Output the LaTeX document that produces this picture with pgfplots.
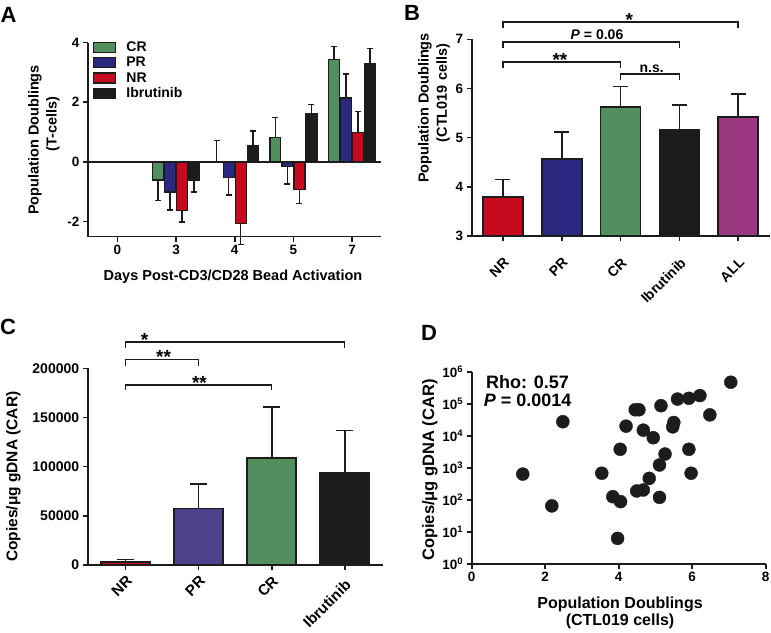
\documentclass[border=0pt]{standalone}
\usepackage{fontspec}
\setmainfont{Liberation Sans}
\usepackage{pgfplots}
\pgfplotsset{compat=1.18}

\definecolor{cgreen}{RGB}{82,142,94}
\definecolor{cblue}{RGB}{42,40,128}
\definecolor{cred}{RGB}{200,10,30}
\definecolor{cblack}{RGB}{28,28,28}
\definecolor{cpurple}{RGB}{155,55,128}
\definecolor{cslate}{RGB}{76,66,140}

\newcommand{\ft}[1]{\fontsize{#1}{#1}\selectfont\bfseries}

\tikzset{br/.style={line width=1.5pt, cblack}}
\pgfplotsset{
  gp/.style={
    scale only axis,
    anchor=south west,
    axis x line*=bottom,
    axis y line*=left,
    axis line style={line width=1.6pt, cblack},
    tick align=outside,
    major tick length=5pt,
    tick style={line width=1.6pt, cblack},
    tick label style={font=\ft{13.5}},
    /pgf/number format/assume math mode=true,
    /pgf/number format/1000 sep={},
    scaled ticks=false,
    clip=false,
  },
}

\begin{document}
\begin{tikzpicture}
\useasboundingbox (0pt,0pt) rectangle (771pt,-632pt);

% ---------------- Panel A ----------------
\begin{axis}[gp, at={(88pt,-236.5pt)}, width=293.5pt, height=194pt,
  xmin=-0.5, xmax=4.5, ymin=-2.5, ymax=4,
  xtick={0,1,2,3,4}, xticklabels={0,3,4,5,7},
  ytick={-2,0,2,4}, yticklabels={-2,0,2,4},
  ybar, bar width=0.185,
  error bars/y dir=both, error bars/y explicit,
  error bars/error bar style={line width=1.4pt, cblack},
  error bars/error mark options={rotate=90, mark size=3pt, line width=1.4pt, cblack},
  legend image code/.code={\draw[#1, line width=1.3pt] (0pt,-5pt) rectangle (22pt,5pt);},
  legend style={at={(0.016,1.012)}, anchor=north west, draw=none, fill=none,
    font=\ft{14}, inner sep=0pt, row sep=1.8pt,
    nodes={inner sep=1.2pt},
    /tikz/every odd column/.append style={column sep=9pt}},
  legend cell align=left,
]
\addplot[fill=cgreen, draw=cblack, line width=1.3pt, bar shift=-0.3075] coordinates {
  (1,-0.61) += (0,0) -= (0,0.68)
  (2,0.02) += (0,0.70) -= (0,0)
  (3,0.81) += (0,0.68) -= (0,0)
  (4,3.44) += (0,0.42) -= (0,0)};
\addplot[fill=cblue, draw=cblack, line width=1.3pt, bar shift=-0.1025] coordinates {
  (1,-1.01) += (0,0) -= (0,0.60)
  (2,-0.53) += (0,0) -= (0,0.58)
  (3,-0.16) += (0,0) -= (0,0.58)
  (4,2.14) += (0,0.81) -= (0,0)};
\addplot[fill=cred, draw=cblack, line width=1.3pt, bar shift=0.1025] coordinates {
  (1,-1.63) += (0,0) -= (0,0.38)
  (2,-2.07) += (0,0) -= (0,0.70)
  (3,-0.92) += (0,0) -= (0,0.47)
  (4,0.98) += (0,0.70) -= (0,0)};
\addplot[fill=cblack, draw=cblack, line width=1.3pt, bar shift=0.3075] coordinates {
  (1,-0.62) += (0,0) -= (0,0.39)
  (2,0.53) += (0,0.50) -= (0,0)
  (3,1.61) += (0,0.32) -= (0,0)
  (4,3.29) += (0,0.51) -= (0,0)};
\legend{CR,PR,NR,Ibrutinib}
\draw[line width=1.6pt, cblack] (axis cs:-0.5,0) -- (axis cs:4.5,0);
\end{axis}

% ---------------- Panel B ----------------
\begin{axis}[gp, at={(471.7pt,-236pt)}, width=298.3pt, height=196.7pt,
  xmin=-0.53, xmax=4.54, ymin=3, ymax=7, ytick={3,4,5,6,7}, yticklabels={3,4,5,6,7},
  xtick={0,1,2,3,4}, xticklabels={NR,PR,CR,Ibrutinib,ALL},
  xticklabel style={yshift=-11pt, rotate=45, anchor=north east, font=\ft{14}},
  clip=true, clip mode=individual,
  ybar, bar width=0.68,
  error bars/y dir=plus, error bars/y explicit,
  error bars/error bar style={line width=1.6pt, cblack},
  error bars/error mark options={rotate=90, mark size=7.5pt, line width=1.6pt, cblack},
]
\addplot[fill=cred, draw=cblack, line width=1.7pt, bar shift=0pt] coordinates {(0,3.80) +- (0,0.35)};
\addplot[fill=cblue, draw=cblack, line width=1.7pt, bar shift=0pt] coordinates {(1,4.56) +- (0,0.56)};
\addplot[fill=cgreen, draw=cblack, line width=1.7pt, bar shift=0pt] coordinates {(2,5.62) +- (0,0.42)};
\addplot[fill=cblack, draw=cblack, line width=1.7pt, bar shift=0pt] coordinates {(3,5.15) +- (0,0.52)};
\addplot[fill=cpurple, draw=cblack, line width=1.7pt, bar shift=0pt] coordinates {(4,5.42) +- (0,0.47)};
\draw[br] (axis cs:0,7.22) |- (axis cs:4,7.356) -- (axis cs:4,7.22);
\draw[br] (axis cs:0,6.815) |- (axis cs:3,6.95) -- (axis cs:3,6.815);
\draw[br] (axis cs:0,6.41) |- (axis cs:2,6.54) -- (axis cs:2,6.41);
\draw[br] (axis cs:2,6.17) |- (axis cs:3,6.29) -- (axis cs:3,6.17);
\node[anchor=base, font=\ft{19}, yshift=-4.5pt] at (axis cs:2.15,7.356) {*};
\node[anchor=base, font=\ft{14}, yshift=2pt] at (axis cs:1.6,6.95) {\textit{P} = 0.06};
\node[anchor=base, font=\ft{19}, yshift=-4.5pt] at (axis cs:0.97,6.54) {**};
\node[anchor=base, font=\ft{14}, yshift=2pt] at (axis cs:2.53,6.29) {n.s.};
\end{axis}

% ---------------- Panel C ----------------
\begin{axis}[gp, at={(87.7pt,-565pt)}, width=295pt, height=196.7pt,
  xmin=-0.52, xmax=3.52, ymin=0, ymax=200000,
  ytick={0,50000,100000,150000,200000},
  yticklabels={0,50000,100000,150000,200000},
  tick label style={font=\ft{14}},
  xtick={0,1,2,3}, xticklabels={NR,PR,CR,\rule{0pt}{13pt}Ibrutinib\hspace*{3pt}},
  xticklabel style={rotate=45, anchor=north east, font=\ft{15}},
  ybar, bar width=0.67,
  error bars/y dir=plus, error bars/y explicit,
  error bars/error bar style={line width=1.6pt, cblack},
  error bars/error mark options={rotate=90, mark size=8.5pt, line width=1.6pt, cblack},
]
\addplot[fill=cred, draw=cblack, line width=1.7pt, bar shift=0pt] coordinates {(0,3400) +- (0,2300)};
\addplot[fill=cslate, draw=cblack, line width=1.7pt, bar shift=0pt] coordinates {(1,57600) +- (0,24800)};
\addplot[fill=cgreen, draw=cblack, line width=1.7pt, bar shift=0pt] coordinates {(2,108500) +- (0,52200)};
\addplot[fill=cblack, draw=cblack, line width=1.7pt, bar shift=0pt] coordinates {(3,93900) +- (0,42700)};
\draw[br] (axis cs:0,220300) |- (axis cs:3,227000) -- (axis cs:3,220300);
\draw[br] (axis cs:0,202300) |- (axis cs:1,209200) -- (axis cs:1,202300);
\draw[br] (axis cs:0,178000) |- (axis cs:2,183000) -- (axis cs:2,178000);
\node[anchor=base, font=\ft{19}, yshift=-4.5pt] at (axis cs:0.26,227000) {*};
\node[anchor=base, font=\ft{19}, yshift=-4.5pt] at (axis cs:0.52,209200) {**};
\node[anchor=base, font=\ft{19}, yshift=-4.5pt] at (axis cs:1.01,183000) {**};
\end{axis}

% ---------------- Panel D ----------------
\begin{axis}[gp, at={(471.7pt,-564pt)}, width=294pt, height=192.3pt,
  xmin=0, xmax=8, ymin=1, ymax=1000000, ymode=log, log basis y=10,
  xtick={0,2,4,6,8}, xticklabels={0,2,4,6,8},
  ytick={1,10,100,1000,10000,100000,1000000},
  yticklabels={10\textsuperscript{0},10\textsuperscript{1},10\textsuperscript{2},10\textsuperscript{3},10\textsuperscript{4},10\textsuperscript{5},10\textsuperscript{6}},
]
\addplot[only marks, mark=*, mark size=6.5pt, mark options={fill=cblack, draw=cblack}] coordinates {
  (1.39,640) (2.18,65) (2.48,27500) (3.54,680) (3.84,126) (3.97,6.3)
  (4.04,3800) (4.05,88) (4.20,20000) (4.45,65000) (4.55,65000) (4.49,190)
  (4.67,204) (4.67,15000) (4.83,470) (4.94,8700) (5.11,1230) (5.11,120)
  (5.15,87000) (5.26,2700) (5.47,19000) (5.50,26000) (5.60,140000)
  (5.91,148000) (5.91,3800) (5.97,680) (6.21,180000) (6.48,45000) (7.05,470000)};
\node[anchor=base, font=\ft{18}] at (rel axis cs:0.19,0.914) {Rho: 0.57};
\node[anchor=base, font=\ft{18}] at (rel axis cs:0.19,0.818) {\textit{P} = 0.0014};
\end{axis}

% ---------------- Labels ----------------
\node[font=\ft{14.5}, anchor=base] at (233pt,-280pt) {Days Post-CD3/CD28 Bead Activation};
\node[font=\ft{14.5}, rotate=90] at (35pt,-140pt) {Population Doublings};
\node[font=\ft{14.5}, rotate=90] at (53pt,-124pt) {(T-cells)};
\node[font=\ft{14.5}, rotate=90] at (425pt,-108pt) {Population Doublings};
\node[font=\ft{14.5}, rotate=90] at (443pt,-93pt) {(CTL019 cells)};
\node[font=\ft{15.5}, rotate=90] at (13.3pt,-476.7pt) {Copies/μg gDNA (CAR)};
\node[font=\ft{16.5}, rotate=90] at (430pt,-470pt) {Copies/μg gDNA (CAR)};
\node[font=\ft{16}, anchor=base] at (620pt,-608pt) {Population Doublings};
\node[font=\ft{16}, anchor=base] at (620pt,-625pt) {(CTL019 cells)};

\node[font=\ft{22}, anchor=base west, inner sep=0pt] at (0.5pt,-22pt) {A};
\node[font=\ft{22}, anchor=base west, inner sep=0pt] at (404pt,-20pt) {B};
\node[font=\ft{22}, anchor=base west, inner sep=0pt] at (0pt,-334pt) {C};
\node[font=\ft{22}, anchor=base west, inner sep=0pt] at (421pt,-340pt) {D};
\end{tikzpicture}
\end{document}
